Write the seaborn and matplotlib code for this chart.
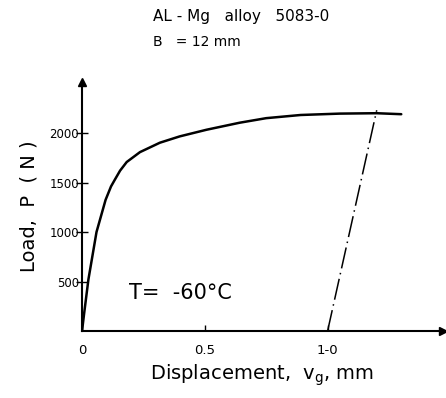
import matplotlib
matplotlib.use("Agg")
import matplotlib.pyplot as plt
import seaborn as sns
import pandas as pd

# data
disp = [0.0, 0.009, 0.026, 0.059, 0.096, 0.118, 0.134, 0.155, 0.182, 0.236, 0.317, 0.398, 0.507, 0.642, 0.75, 0.89, 1.05, 1.20, 1.30]
load = [0, 185, 520, 1000, 1325, 1460, 1530, 1620, 1707, 1807, 1902, 1966, 2033, 2104, 2150, 2182, 2196, 2200, 2190]
offset_disp = [1.0, 1.2]
offset_load = [0, 2230]
xticks = [0, 0.5, 1.0]
xtick_labels = ["0", "0.5", "1-0"]
yticks = [500, 1000, 1500, 2000]
ytick_labels = ["500", "1000", "1500", "2000"]

sns.set_theme(style="white")
plt.rcParams["font.family"] = ["DejaVu Sans"]
plt.rcParams["text.color"] = "black"
plt.rcParams["axes.labelcolor"] = "black"

fig = plt.figure(figsize=(4.46, 3.98), dpi=100)
ax = fig.add_axes([0.1839, 0.1683, 0.8094, 0.6256])

df = pd.DataFrame({"disp": disp, "load": load})
sns.lineplot(data=df, x="disp", y="load", ax=ax, color="black", lw=1.8, sort=False)
df2 = pd.DataFrame({"disp": offset_disp, "load": offset_load})
sns.lineplot(data=df2, x="disp", y="load", ax=ax, color="black", lw=1.1,
             linestyle=(0, (14, 3, 1, 3)), sort=False)

ax.set_xlim(0, 1.47)
ax.set_ylim(0, 2515)
for s in ["top", "right"]:
    ax.spines[s].set_visible(False)
for s in ["left", "bottom"]:
    ax.spines[s].set_color("black")
    ax.spines[s].set_linewidth(1.5)

# arrow heads
ax.plot(1, 0, ">", color="black", ms=6, transform=ax.transAxes, clip_on=False)
ax.plot(0, 1, "^", color="black", ms=6, transform=ax.transAxes, clip_on=False)

ax.set_xticks(xticks)
ax.set_xticklabels(xtick_labels, fontsize=9.5)
ax.set_yticks(yticks)
ax.set_yticklabels(ytick_labels, fontsize=8.5)
ax.tick_params(axis="x", bottom=True, direction="in", length=4, width=1, pad=9, colors="black")
ax.tick_params(axis="y", left=True, direction="inout", length=8, width=1, pad=-2, colors="black")

ax.set_xlabel("Displacement,  v$_\\mathregular{g}$, mm", fontsize=14, labelpad=4, color="black")
ax.set_ylabel("Load,  P  ( N )", fontsize=14, labelpad=8, color="black")

ax.text(0.19, 380, "T=  -60°C", fontsize=15, ha="left", va="center", color="black")
fig.text(153/446, 1 - 17/398, "AL - Mg   alloy   5083-0", fontsize=11, ha="left", va="center", color="black")
fig.text(153/446, 1 - 42/398, "B   = 12 mm", fontsize=10, ha="left", va="center", color="black")

fig.savefig("out.png", dpi=100)
